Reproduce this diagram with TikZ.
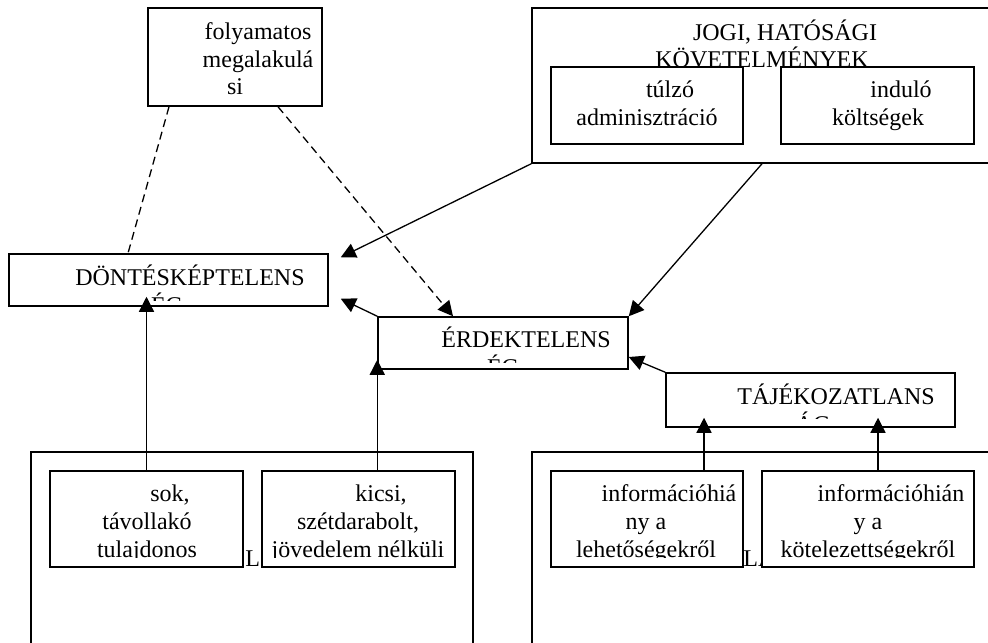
\documentclass[tikz,border=0pt]{standalone}
\usepackage{fontspec}
\setmainfont{Liberation Serif}
\usetikzlibrary{arrows.meta,fit,calc}

\begin{document}
\begin{tikzpicture}[x=0.5pt, y=-0.5pt,
    box/.style={draw=black, line width=0.75pt, inner sep=0pt, fill=white},
    txt/.style={font=\fontsize{12}{13.8}\selectfont, align=center, anchor=base, inner sep=0pt},
    arr/.style={-{Triangle[length=7.5pt,width=7.5pt]}, line width=0.65pt},
    dashlin/.style={dash pattern=on 4pt off 2.5pt, line width=0.65pt},
    bele/.style={shorten >=-5pt}]
    \useasboundingbox (0,0) rectangle (988,642);
    \clip (0,0) rectangle (988,642);

    % outer boxes (text nodes sit on the baseline of their last line)
    \node[box, fit={(532,8) (1000,163)}] (jogi) {};
    \node[txt] (jogit) at (762,68) {\hspace*{23pt}JOGI, HATÓSÁGI\\KÖVETELMÉNYEK};
    \node[box, fit={(31,452) (473,660)}] (bal) {};
    \node[box, fit={(532,452) (1000,660)}] (jobb) {};
    \node[txt, anchor=base west] (balt) at (245,566) {L};
    \node[txt, anchor=base west] (jobbt) at (743,566) {LA};

    % inner boxes
    \node[box, fit={(551,67) (743,144)}] (tulzo) {};
    \node[txt] (tulzot) at (647,125) {\hspace*{23pt}túlzó\\adminisztráció};
    \node[box, fit={(781,67) (974,144)}] (indulo) {};
    \node[txt] (indulot) at (878,125) {\hspace*{23pt}induló\\költségek};

    \node[box, fit={(148,8) (322,106)}] (folyam) {};
    \node[txt] (folyamt) at (235,95) {\hspace*{23pt}folyamatos\\\hspace*{23pt}megalakulá\\si};

    \node[box, fit={(9,254) (328,306)}] (dont) {};
    \begin{scope}
      \clip (dont.north west) rectangle ([yshift=3pt]dont.south east);
      \node[txt] (dontt) at (167,313) {\hspace*{23pt}DÖNTÉSKÉPTELENS\\ÉG};
    \end{scope}

    \node[box, fit={(378,317) (628,369)}] (erdek) {};
    \begin{scope}
      \clip (erdek.north west) rectangle ([yshift=3.5pt]erdek.south east);
      \node[txt] (erdekt) at (503,375) {\hspace*{23pt}ÉRDEKTELENS\\ÉG};
    \end{scope}

    \node[box, fit={(666,373) (955,427)}] (tajek) {};
    \begin{scope}
      \clip (tajek.north west) rectangle ([yshift=4.5pt]tajek.south east);
      \node[txt] (tajekt) at (813,432) {\hspace*{23pt}TÁJÉKOZATLANS\\ÁG};
    \end{scope}

    \node[box, fit={(50,471) (243,567)}] (sok) {};
    \node[box, fit={(262,471) (455,567)}] (kicsi) {};
    \node[box, fit={(551,471) (743,567)}] (info1) {};
    \node[box, fit={(762,471) (974,567)}] (info2) {};
    \begin{scope}
      \clip (sok.north west) rectangle ([yshift=5pt]sok.south east);
      \node[txt] (sokt) at (147,557) {\hspace*{23pt}sok,\\távollakó\\tulajdonos};
    \end{scope}
    \begin{scope}
      \clip (kicsi.north west) rectangle ([yshift=5pt]kicsi.south east);
      \node[txt] (kicsit) at (358,557) {\hspace*{23pt}kicsi,\\szétdarabolt,\\jövedelem nélküli};
    \end{scope}
    \begin{scope}
      \clip (info1.north west) rectangle ([yshift=5pt]info1.south east);
      \node[txt] (info1t) at (646,557) {\hspace*{23pt}információhiá\\ny a\\lehetőségekről};
    \end{scope}
    \begin{scope}
      \clip (info2.north west) rectangle ([yshift=5pt]info2.south east);
      \node[txt] (info2t) at (868,557) {\hspace*{23pt}információhián\\y a\\kötelezettségekről};
    \end{scope}

    % connectors
    \draw[dashlin] (folyam.south -| 169,0) -- (dont.north -| 128,0);
    \draw[dashlin, arr] (folyam.south -| 278,0) -- (erdek.north -| 453,0);
    \draw[arr] (jogi.south west) -- ($(dont.north east)+(12,4)$);
    \draw[arr] (jogi.south -| 762,0) -- (erdek.north east);
    \draw[arr] (erdek.north west) -- ($(dont.south east)+(12,-8)$);
    \draw[arr] (tajek.north west) -- (erdek.east |- 0,357);
    \draw[arr, bele] (sok.north) -- (sok.north |- dont.south);
    \draw[arr, bele] (erdek.south west |- kicsi.north) -- (erdek.south west);
    \draw[arr, bele] (info1.north -| 704,0) -- (tajek.south -| 704,0);
    \draw[arr, bele] (info2.north -| 878,0) -- (tajek.south -| 878,0);
\end{tikzpicture}
\end{document}
